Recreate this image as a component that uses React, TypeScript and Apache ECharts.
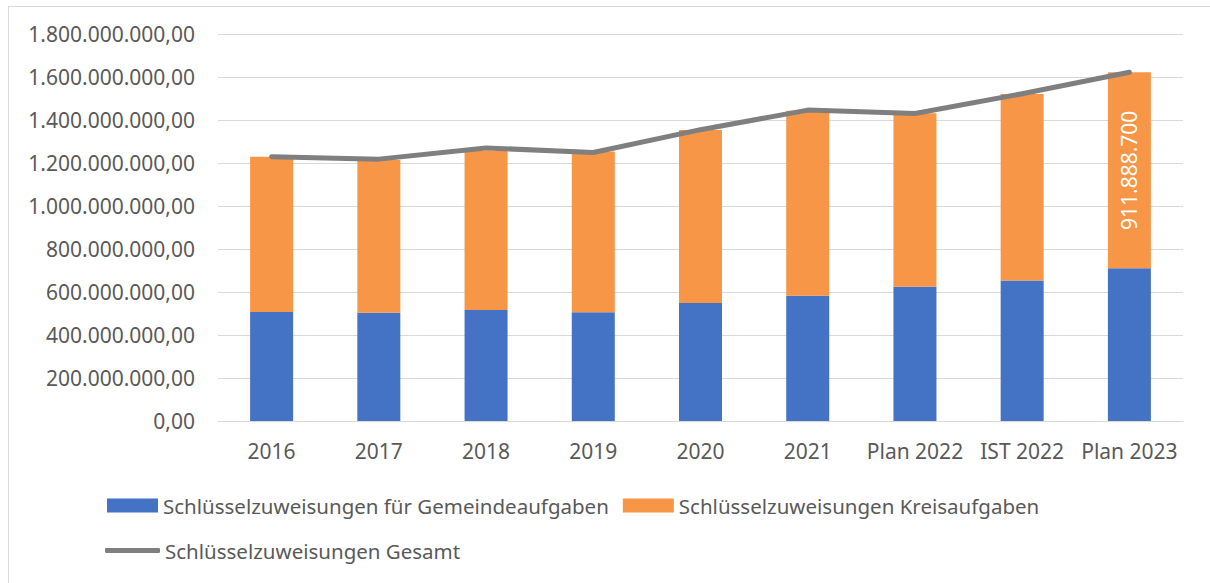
import React, { useEffect, useRef } from "react";
import * as echarts from "echarts";

const categories = ["2016", "2017", "2018", "2019", "2020", "2021", "Plan 2022", "IST 2022", "Plan 2023"];
const gemeinde = [507e6, 504e6, 516e6, 506e6, 549e6, 583e6, 625e6, 653e6, 710e6];
const kreis = [722e6, 710e6, 740e6, 747e6, 804e6, 860e6, 806e6, 868e6, 911888700];
const gesamt = [1229e6, 1218e6, 1270e6, 1249e6, 1355e6, 1446e6, 1430e6, 1522e6, 1622e6];
const labelledIndex = 8;

const names = [
  "Schlüsselzuweisungen für Gemeindeaufgaben",
  "Schlüsselzuweisungen Kreisaufgaben",
  "Schlüsselzuweisungen Gesamt",
];

function groupThousands(intStr: string): string {
  return intStr.replace(/\B(?=(\d{3})+(?!\d))/g, ".");
}
function fmtAxis(v: number): string {
  const fixed = v.toFixed(2);
  const [i, d] = fixed.split(".");
  return groupThousands(i) + "," + d;
}
function fmtLabel(v: number): string {
  return groupThousands(Math.round(v).toString());
}

const FONT = "'Noto Sans', 'Open Sans', sans-serif";
const TEXT = "#595959";

export default function App() {
  const ref = useRef<HTMLDivElement>(null);
  useEffect(() => {
    if (!ref.current) return;
    const chart = echarts.init(ref.current, undefined, { renderer: "svg" });
    chart.setOption({
      animation: false,
      textStyle: { fontFamily: FONT },
      grid: { left: 218, right: 27, top: 34, bottom: 162 },
      legend: [
        {
          data: [names[0], names[1]],
          left: 107,
          top: 495,
          padding: 0,
          itemWidth: 51,
          itemHeight: 14,
          itemGap: 14,
          icon: "rect",
          textStyle: { fontSize: 20.5, color: TEXT, fontFamily: FONT },
        },
        {
          data: [{ name: names[2], icon: "roundRect", itemStyle: { color: "#7f7f7f" } }],
          left: 105,
          top: 540,
          padding: 0,
          itemWidth: 55,
          itemHeight: 5,
          textStyle: { fontSize: 20.5, color: TEXT, fontFamily: FONT },
        },
      ],
      xAxis: {
        type: "category",
        data: categories,
        axisLine: { lineStyle: { color: "#d9d9d9", width: 1 } },
        axisTick: { show: false },
        axisLabel: { fontSize: 21, color: TEXT, margin: 19, fontFamily: FONT, interval: 0 },
      },
      yAxis: {
        type: "value",
        min: 0,
        max: 1800000000,
        interval: 200000000,
        axisLine: { show: false },
        axisTick: { show: false },
        splitLine: { lineStyle: { color: "#d9d9d9", width: 1 } },
        axisLabel: { fontSize: 21, color: TEXT, margin: 23, formatter: fmtAxis, fontFamily: FONT },
      },
      series: [
        {
          name: names[0],
          type: "bar",
          stack: "total",
          barWidth: 43,
          itemStyle: { color: "#4472c4" },
          data: gemeinde,
        },
        {
          name: names[1],
          type: "bar",
          stack: "total",
          barWidth: 43,
          itemStyle: { color: "#f79646" },
          data: kreis.map((v, i) =>
            i === labelledIndex
              ? {
                  value: v,
                  label: {
                    show: true,
                    position: "inside",
                    rotate: 90,
                    color: "#ffffff",
                    fontSize: 21,
                    fontFamily: FONT,
                    formatter: (p: any) => fmtLabel(p.value),
                  },
                }
              : v
          ),
        },
        {
          name: names[2],
          type: "line",
          symbol: "none",
          lineStyle: { color: "#7f7f7f", width: 5, cap: "round", join: "round" },
          itemStyle: { color: "#7f7f7f" },
          data: gesamt,
          z: 5,
        },
      ],
    });
    return () => chart.dispose();
  }, []);
  return (
    <div style={{ position: "fixed", left: 0, top: 0, width: 1210, height: 583, background: "#fff" }}>
      <div
        style={{
          position: "absolute",
          left: 8,
          top: 6,
          right: 0,
          bottom: 0,
          borderTop: "1px solid #d9d9d9",
          borderLeft: "1px solid #d9d9d9",
        }}
      />
      <div ref={ref} style={{ position: "absolute", left: 0, top: 0, width: 1210, height: 583 }} />
    </div>
  );
}
